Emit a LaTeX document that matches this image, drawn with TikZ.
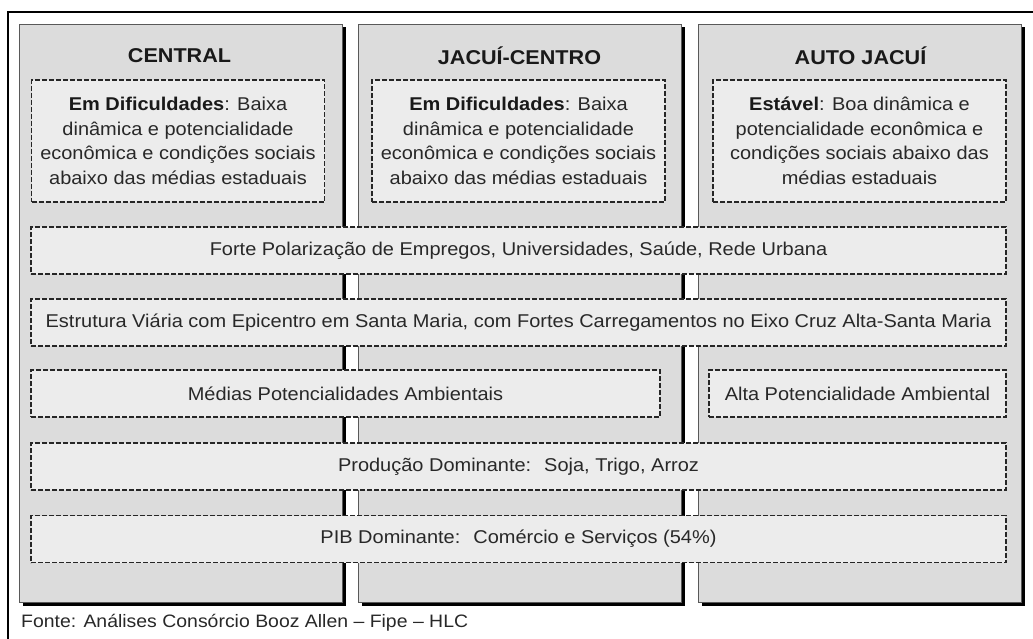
\documentclass[tikz,border=0pt]{standalone}
\usepackage{fontspec}
\setmainfont[FakeStretch=1.08]{Liberation Sans}
\usepackage{tikz}
\usetikzlibrary{calc,positioning,shadows}

\definecolor{colgray}{RGB}{220,220,220}
\definecolor{boxgray}{RGB}{236,236,236}
\definecolor{txtgray}{RGB}{40,40,40}

\begin{document}
\begin{tikzpicture}[x=1pt, y=-1pt,
		column/.style={rectangle, draw=black!65, line width=0.8pt, fill=colgray, minimum width=323pt, minimum height=578pt, inner sep=0pt,
			general shadow={fill=black, shadow xshift=3.5pt, shadow yshift=-3.5pt}},
		heading/.style={font=\fontsize{20}{22}\selectfont\bfseries, text=black!90},
		dashbox/.style={rectangle, draw=black!85, line width=1.3pt, dash pattern=on 5pt off 2pt, fill=boxgray, inner sep=0pt,
			align=center, text=txtgray, font=\fontsize{18.5}{24.5}\selectfont},
		topbox/.style={dashbox, minimum width=293pt, minimum height=122pt},
		rowbox/.style={dashbox, minimum width=975pt, minimum height=47pt}]
	\useasboundingbox (0,0) rectangle (1033,639);
	\coordinate (origin) at (0, 0);

	% outer frame
	\draw[line width=2pt] ($(origin) + (8, 639)$) -- ($(origin) + (8, 12)$) -- ($(origin) + (1033, 12)$);

	% the three columns
	\node[column] (central) at ($(origin) + (180.5, 313)$) {};
	\node[column] (jacui) at ($(origin) + (519.5, 313)$) {};
	\node[column] (auto) at ($(origin) + (859.5, 313)$) {};
	\node[heading] (hcentral) at ($(central.north) + (-1, 32)$) {CENTRAL};
	\node[heading] (hjacui) at ($(jacui.north) + (0, 32)$) {JACUÍ-CENTRO};
	\node[heading] (hauto) at ($(auto.north) + (1, 32)$) {AUTO JACUÍ};

	% situation of each region
	\node[topbox] (dcentral) at ($(origin) + (178, 141)$) {{\color{black!90}\bfseries Em Dificuldades}: Baixa\\dinâmica e potencialidade\\econômica e condições sociais\\abaixo das médias estaduais};
	\node[topbox] (djacui) at ($(origin) + (518.5, 141)$) {{\color{black!90}\bfseries Em Dificuldades}: Baixa\\dinâmica e potencialidade\\econômica e condições sociais\\abaixo das médias estaduais};
	\node[topbox] (dauto) at ($(origin) + (859.5, 141)$) {{\color{black!90}\bfseries Estável}: Boa dinâmica e\\potencialidade econômica e\\condições sociais abaixo das\\médias estaduais};

	% common rows
	\node[rowbox] (polar) at ($(origin) + (518.5, 250.5)$) {Forte Polarização de Empregos, Universidades, Saúde, Rede Urbana};
	\node[rowbox] (viaria) at ($(origin) + (518.5, 322.5)$) {Estrutura Viária com Epicentro em Santa Maria, com Fortes Carregamentos no Eixo Cruz Alta-Santa Maria};
	\node[dashbox, minimum width=629pt, minimum height=47pt] (medias) at ($(origin) + (345.5, 393.5)$) {Médias Potencialidades Ambientais};
	\node[dashbox, minimum width=297pt, minimum height=47pt] (alta) at ($(origin) + (857.5, 393.5)$) {Alta Potencialidade Ambiental};
	\node[rowbox] (producao) at ($(origin) + (518.5, 466.5)$) {Produção Dominante: \ Soja, Trigo, Arroz};
	\node[rowbox] (pib) at ($(origin) + (518.5, 539)$) {PIB Dominante: \ Comércio e Serviços (54\%)};

	\node[anchor=west, inner sep=0pt, text=txtgray, font=\fontsize{18}{20}\selectfont] (fonte) at ($(origin) + (21, 623)$) {Fonte: Análises Consórcio Booz Allen – Fipe – HLC};
\end{tikzpicture}
\end{document}
